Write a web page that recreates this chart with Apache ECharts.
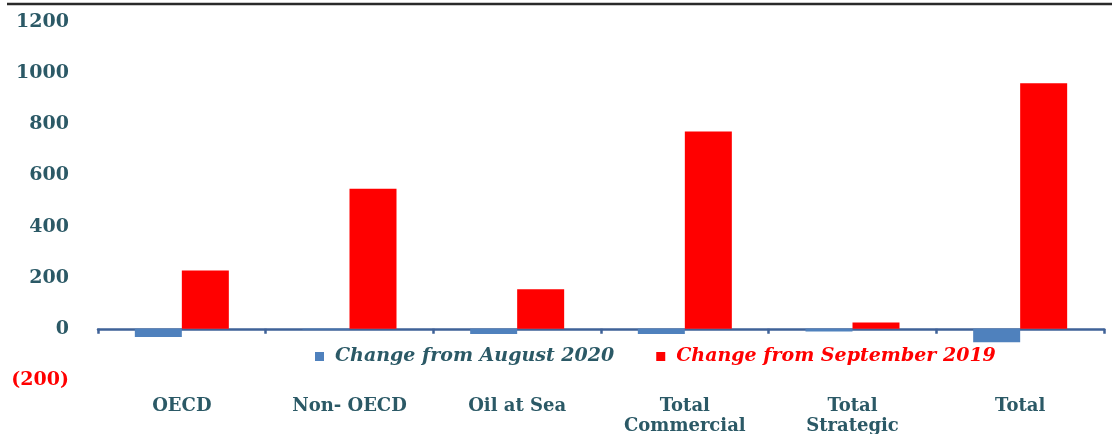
<!DOCTYPE html>
<html>
<head>
<meta charset="utf-8">
<script src="https://cdn.jsdelivr.net/npm/echarts@6/dist/echarts.min.js"></script>
<style>
html,body{margin:0;padding:0;background:#fff;}
#chart{width:1112px;height:434px;}
</style>
</head>
<body>
<div id="chart"></div>
<script>
var categories = ['OECD', 'Non- OECD', 'Oil at Sea', 'Total\nCommercial', 'Total\nStrategic', 'Total'];
var seriesNames = ['Change from August 2020', 'Change from September 2019'];
var changeAug2020 = [-32, -3, -20, -20, -10, -52];
var changeSep2019 = [228, 548, 155, 772, 25, 960];
var yTicks = { min: -200, max: 1200, interval: 200 };

var textColor = '#2B5966';
var chart = echarts.init(document.getElementById('chart'));
chart.setOption({
  animation: false,
  backgroundColor: '#fff',
  graphic: [{
    type: 'line', shape: { x1: 7, y1: 4, x2: 1112, y2: 4 },
    style: { stroke: '#2a2a2a', lineWidth: 2.5 }
  }],
  grid: { left: 98, right: 8, top: 22, bottom: 54, containLabel: false, outerBoundsMode: 'none' },
  legend: {
    left: 310, top: 342, itemWidth: 9, itemHeight: 9, itemGap: 42, icon: 'rect',
    textStyle: { fontFamily: 'DejaVu Serif', fontStyle: 'italic', fontWeight: 'bold', fontSize: 19, padding: [0, 0, 0, 6] },
    data: [
      { name: seriesNames[0], textStyle: { color: textColor } },
      { name: seriesNames[1], textStyle: { color: '#FF0000' } }
    ]
  },
  xAxis: [{
    type: 'category', data: categories,
    axisLine: { onZero: true, lineStyle: { color: '#3F6298', width: 2.5 } },
    axisTick: { show: true, length: 5, lineStyle: { color: '#3F6298', width: 2.5 } },
    axisLabel: { show: false }
  }, {
    type: 'category', data: categories, position: 'bottom',
    axisLine: { show: false, onZero: false }, axisTick: { show: false },
    axisLabel: {
      margin: 16, color: textColor, fontFamily: 'DejaVu Serif', fontWeight: 'bold',
      fontSize: 18, lineHeight: 20, interval: 0, verticalAlign: 'top'
    }
  }],
  yAxis: {
    type: 'value', min: yTicks.min, max: yTicks.max, interval: yTicks.interval,
    splitLine: { show: false }, axisLine: { show: false }, axisTick: { show: false },
    axisLabel: {
      margin: 29, color: textColor, fontFamily: 'DejaVu Serif', fontWeight: 'bold', fontSize: 19,
      formatter: function (v) { return v < 0 ? '{neg|(' + Math.abs(v) + ')}' : String(v); },
      rich: { neg: { color: '#FF0000', fontFamily: 'DejaVu Serif', fontWeight: 'bold', fontSize: 19 } }
    }
  },
  series: [
    { name: seriesNames[0], type: 'bar', data: changeAug2020, barWidth: 47, barGap: '0%',
      itemStyle: { color: '#4F81BD' } },
    { name: seriesNames[1], type: 'bar', data: changeSep2019, barWidth: 47, barGap: '0%',
      itemStyle: { color: '#FF0000' } }
  ]
});
</script>
</body>
</html>
